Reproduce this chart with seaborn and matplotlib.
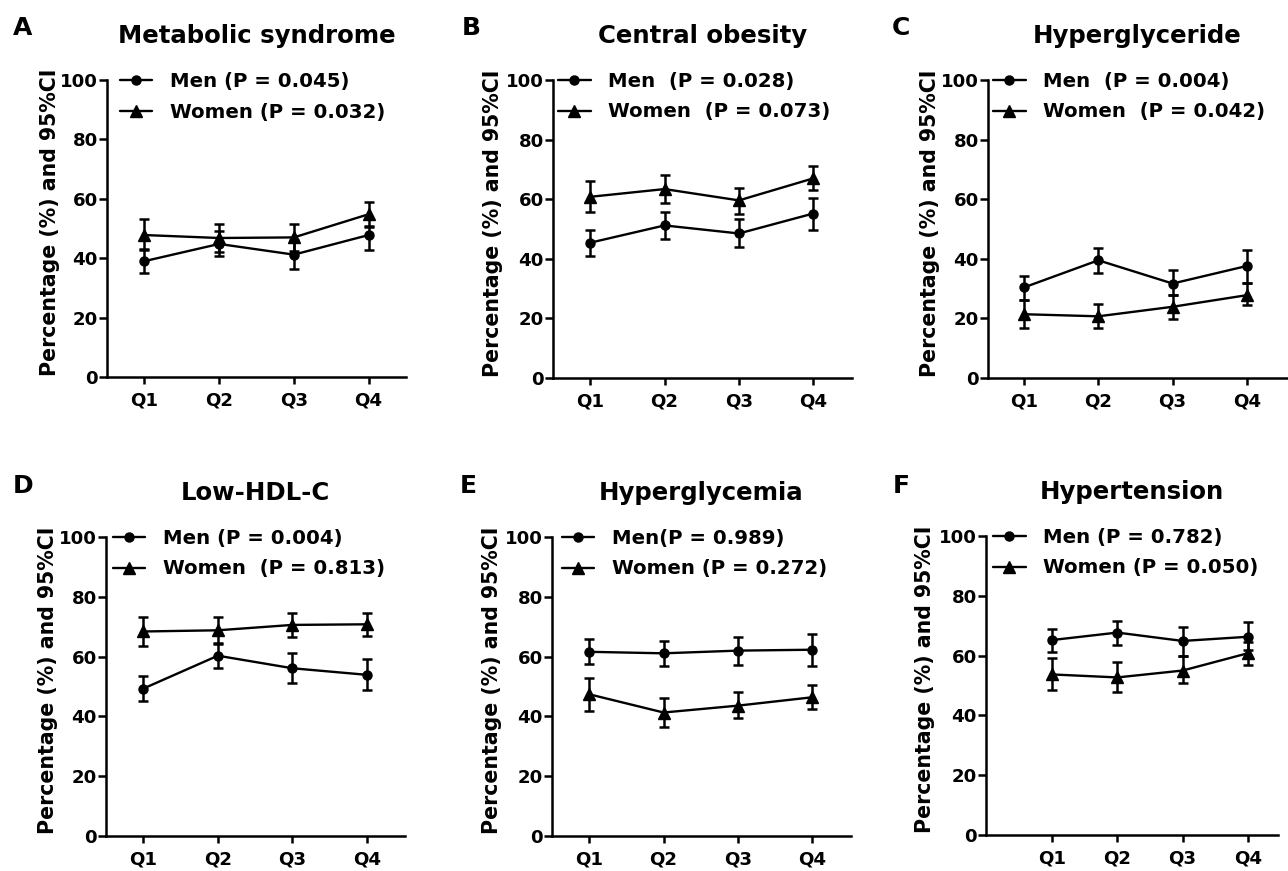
import numpy as np
import matplotlib
matplotlib.use('Agg')
import matplotlib.pyplot as plt
import seaborn as sns

# quartile groups
quarters = ['Q1', 'Q2', 'Q3', 'Q4']

# panel letters / titles
letters = ['A', 'B', 'C', 'D', 'E', 'F']
titles = ['Metabolic syndrome', 'Central obesity', 'Hyperglyceride',
          'Low-HDL-C', 'Hyperglycemia', 'Hypertension']

men_labels = ['Men (P = 0.045)', 'Men  (P = 0.028)', 'Men  (P = 0.004)',
              'Men (P = 0.004)', 'Men(P = 0.989)', 'Men (P = 0.782)']
women_labels = ['Women (P = 0.032)', 'Women  (P = 0.073)', 'Women  (P = 0.042)',
                'Women  (P = 0.813)', 'Women (P = 0.272)', 'Women (P = 0.050)']

# percentages with 95% CI
men_pct = [[39.0, 44.8, 41.2, 47.8], [45.4, 51.2, 48.5, 55.2], [30.4, 39.5, 31.7, 37.6],
           [49.3, 60.3, 56.1, 53.9], [61.6, 61.1, 62.0, 62.3], [65.2, 67.7, 64.9, 66.3]]
men_lo = [[35.0, 40.8, 36.5, 42.8], [41.1, 46.7, 43.8, 49.8], [26.3, 35.3, 27.7, 31.9],
          [45.3, 56.1, 51.3, 48.9], [57.5, 56.8, 57.2, 57.0], [61.1, 63.5, 59.9, 61.9]]
men_hi = [[43.0, 49.0, 46.0, 51.0], [49.6, 55.7, 53.5, 60.5], [34.2, 43.7, 36.2, 42.9],
          [53.6, 64.5, 61.2, 59.2], [65.8, 65.3, 66.6, 67.6], [69.0, 71.7, 69.7, 71.1]]

women_pct = [[47.8, 46.8, 47.0, 54.8], [60.8, 63.4, 59.6, 67.0], [21.4, 20.7, 23.9, 27.8],
             [68.4, 68.8, 70.6, 70.8], [47.4, 41.3, 43.6, 46.4], [53.7, 52.7, 55.0, 60.8]]
women_lo = [[42.8, 42.0, 42.5, 50.5], [55.7, 58.6, 55.2, 63.0], [16.9, 16.7, 19.9, 24.4],
            [63.4, 64.3, 66.5, 66.9], [41.9, 36.6, 39.3, 42.5], [48.5, 47.7, 50.7, 56.9]]
women_hi = [[53.2, 51.6, 51.5, 59.0], [66.1, 68.2, 63.9, 71.2], [26.3, 24.7, 28.0, 31.9],
            [73.4, 73.2, 74.7, 74.6], [52.8, 46.1, 48.0, 50.6], [59.1, 58.0, 59.9, 64.5]]

yticks = [0, 20, 40, 60, 80, 100]

# layout in pixels (left, top, right, bottom), x limits, legend x offset
W, H = 1288, 871
rects = [(107, 80, 406, 377), (553, 80, 852, 378), (988, 80, 1287, 378),
         (106, 537, 405, 836), (552, 537, 851, 836), (986, 536, 1278, 835)]
xlims = [(-0.5, 3.5), (-0.5, 3.52), (-0.485, 3.54), (-0.5, 3.51), (-0.5, 3.52), (-1.01, 3.46)]
leg_x = [0.043, 0.017, 0.017, 0.023, 0.033, 0.024]
lab_x = [-0.157, -0.167, -0.16, -0.16, -0.167, -0.175]
letter_pos = [(13, 35), (462, 35), (892, 35), (13, 493), (460, 493), (893, 493)]


def main():
    sns.set_style('ticks')
    plt.rcParams['font.family'] = ['DejaVu Sans']
    plt.rcParams['font.weight'] = 'bold'
    plt.rcParams['axes.labelweight'] = 'bold'
    plt.rcParams['axes.titleweight'] = 'bold'
    plt.rcParams['axes.linewidth'] = 1.8
    plt.rcParams['xtick.major.width'] = 1.8
    plt.rcParams['ytick.major.width'] = 1.8
    plt.rcParams['text.color'] = 'black'
    plt.rcParams['axes.labelcolor'] = 'black'
    plt.rcParams['xtick.color'] = 'black'
    plt.rcParams['ytick.color'] = 'black'
    plt.rcParams['axes.edgecolor'] = 'black'

    fig = plt.figure(figsize=(W / 100, H / 100), dpi=100)

    for i in range(6):
        l, t, r, b = rects[i]
        ax = fig.add_axes([l / W, 1 - b / H, (r - l) / W, (b - t) / H])

        men = np.array(men_pct[i])
        women = np.array(women_pct[i])

        sns.lineplot(x=quarters, y=men, ax=ax, color='black', marker='o',
                     markersize=6.5, markeredgecolor='black', markeredgewidth=1,
                     linewidth=1.7, sort=False, label=men_labels[i])
        sns.lineplot(x=quarters, y=women, ax=ax, color='black', marker='^',
                     markersize=9, markeredgecolor='black', markeredgewidth=1,
                     linewidth=1.7, sort=False, label=women_labels[i])

        ax.errorbar(quarters, men, yerr=[men - np.array(men_lo[i]), np.array(men_hi[i]) - men],
                    fmt='none', ecolor='black', elinewidth=1.8, capsize=3.3, capthick=1.8)
        ax.errorbar(quarters, women, yerr=[women - np.array(women_lo[i]), np.array(women_hi[i]) - women],
                    fmt='none', ecolor='black', elinewidth=1.8, capsize=3.3, capthick=1.8)

        ax.set_ylim(0, 100)
        ax.set_xlim(*xlims[i])
        ax.set_yticks(yticks)
        ax.tick_params(axis='y', length=5.5, pad=1, labelsize=13.1)
        ax.tick_params(axis='x', length=5, pad=5.5, labelsize=13.1)
        sns.despine(ax=ax)

        ax.set_xlabel('')
        ax.set_ylabel('Percentage (%) and 95%CI', fontsize=14.8)
        ax.yaxis.set_label_coords(lab_x[i], 0.52)
        ax.set_title(titles[i], fontsize=17.6, pad=27)

        ax.legend(loc='upper left', bbox_to_anchor=(leg_x[i], 1.028), frameon=False,
                  fontsize=14.2, borderpad=0, borderaxespad=0, handlelength=1.65,
                  handletextpad=0.9, labelspacing=0.6)

        fig.text(letter_pos[i][0] / W, 1 - letter_pos[i][1] / H, letters[i],
                 fontsize=18, fontweight='bold', ha='left', va='baseline')

    plt.savefig('out.png', dpi=100)


if __name__ == '__main__':
    main()
